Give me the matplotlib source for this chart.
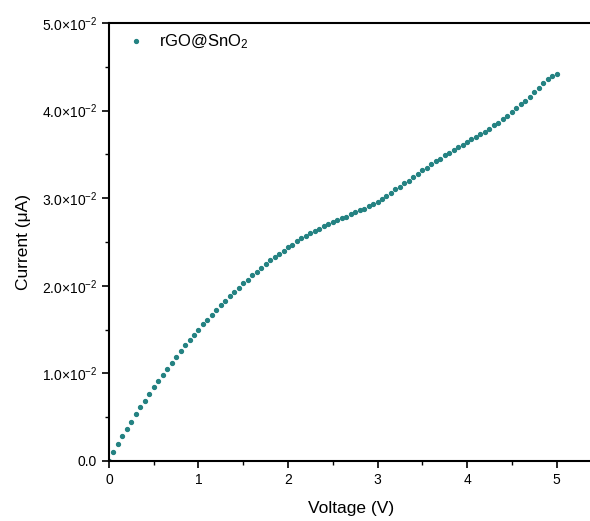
import matplotlib
matplotlib.use('Agg')
import matplotlib.pyplot as plt
from matplotlib.ticker import MultipleLocator, FuncFormatter

plt.rcParams['font.family'] = ['Liberation Sans', 'DejaVu Sans']
plt.rcParams['mathtext.fontset'] = 'custom'
plt.rcParams['mathtext.rm'] = 'Liberation Sans'
plt.rcParams['mathtext.it'] = 'Liberation Sans:italic'

# voltage (V), 0.05 V steps
voltage = [0.00, 0.05, 0.10, 0.15, 0.20, 0.25, 0.30, 0.35, 0.40, 0.45,
           0.50, 0.55, 0.60, 0.65, 0.70, 0.75, 0.80, 0.85, 0.90, 0.95,
           1.00, 1.05, 1.10, 1.15, 1.20, 1.25, 1.30, 1.35, 1.40, 1.45,
           1.50, 1.55, 1.60, 1.65, 1.70, 1.75, 1.80, 1.85, 1.90, 1.95,
           2.00, 2.05, 2.10, 2.15, 2.20, 2.25, 2.30, 2.35, 2.40, 2.45,
           2.50, 2.55, 2.60, 2.65, 2.70, 2.75, 2.80, 2.85, 2.90, 2.95,
           3.00, 3.05, 3.10, 3.15, 3.20, 3.25, 3.30, 3.35, 3.40, 3.45,
           3.50, 3.55, 3.60, 3.65, 3.70, 3.75, 3.80, 3.85, 3.90, 3.95,
           4.00, 4.05, 4.10, 4.15, 4.20, 4.25, 4.30, 4.35, 4.40, 4.45,
           4.50, 4.55, 4.60, 4.65, 4.70, 4.75, 4.80, 4.85, 4.90, 4.95,
           5.00]

# current in units of 1e-2 uA
current = [0.00, 0.10, 0.19, 0.28, 0.37, 0.45, 0.54, 0.62, 0.69, 0.77,
           0.84, 0.91, 0.98, 1.05, 1.12, 1.19, 1.25, 1.32, 1.38, 1.44,
           1.50, 1.56, 1.61, 1.67, 1.72, 1.78, 1.83, 1.88, 1.93, 1.98,
           2.03, 2.07, 2.12, 2.16, 2.20, 2.25, 2.29, 2.33, 2.36, 2.40,
           2.44, 2.47, 2.51, 2.54, 2.57, 2.60, 2.63, 2.65, 2.68, 2.70,
           2.73, 2.75, 2.77, 2.79, 2.82, 2.84, 2.86, 2.88, 2.91, 2.93,
           2.96, 2.99, 3.03, 3.06, 3.10, 3.13, 3.17, 3.20, 3.24, 3.28,
           3.32, 3.35, 3.39, 3.42, 3.45, 3.49, 3.52, 3.55, 3.58, 3.61,
           3.64, 3.67, 3.70, 3.73, 3.76, 3.79, 3.83, 3.86, 3.90, 3.94,
           3.98, 4.03, 4.07, 4.11, 4.16, 4.21, 4.26, 4.31, 4.36, 4.40,
           4.42]

current_ua = [c * 1e-2 for c in current]

fig = plt.figure(figsize=(5.9, 5.21), dpi=100)
ax = fig.add_axes([0.1847, 0.1152, 0.82, 0.8407])

ax.plot(voltage, current_ua, linestyle='none', marker='o', markersize=2.8,
        color='#248282', label='rGO@SnO$_2$')

ax.set_xlim(0, 5.405)
ax.set_ylim(0, 0.05)

ax.xaxis.set_major_locator(MultipleLocator(1))
ax.xaxis.set_minor_locator(MultipleLocator(0.5))
ax.yaxis.set_major_locator(MultipleLocator(0.01))
ax.yaxis.set_minor_locator(MultipleLocator(0.005))


def sci_fmt(v, pos):
    if abs(v) < 1e-12:
        return '0.0'
    return r'%.1f$\times$10$^{\mathregular{-2}}$' % (v * 100)


ax.yaxis.set_major_formatter(FuncFormatter(sci_fmt))
ax.tick_params(which='major', direction='out', length=5, width=1.2, labelsize=10)
ax.tick_params(which='minor', direction='out', length=3, width=1.0)

for s in ['left', 'bottom', 'top']:
    ax.spines[s].set_linewidth(1.5)
ax.spines['right'].set_visible(False)

ax.set_xlabel('Voltage (V)', fontsize=12.5, labelpad=10)
ax.set_ylabel('Current (\u03bcA)', fontsize=12.5, labelpad=8)

ax.legend(loc='upper left', bbox_to_anchor=(0.017, 1.0), frameon=False,
          fontsize=12, handlelength=1.0, handletextpad=0.9,
          borderaxespad=0.3, borderpad=0.3)

fig.savefig('out.png', dpi=100)
